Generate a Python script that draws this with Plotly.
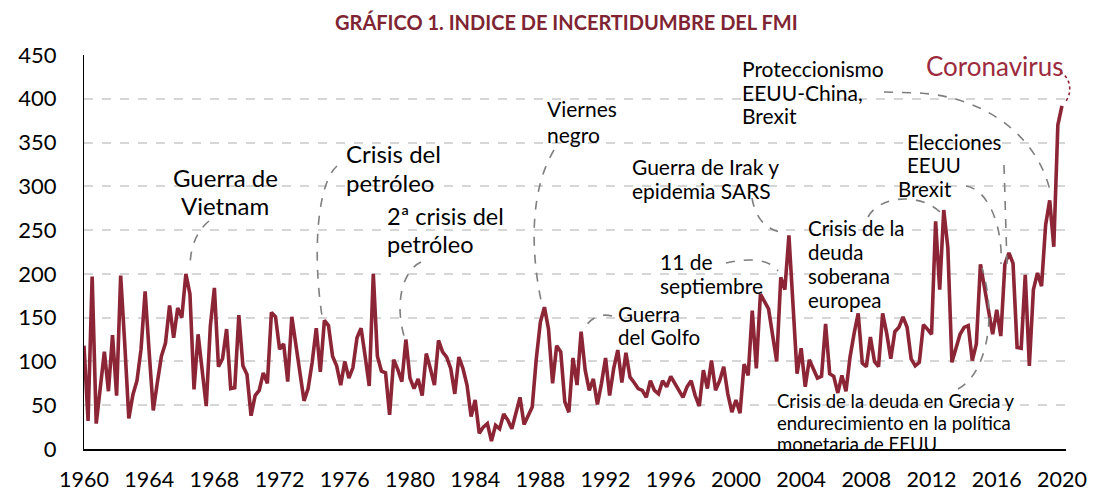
import plotly.graph_objects as go

# ---------------- data (quarterly, 1960Q1 - 2020Q1) ----------------
inicio_anio = 1960
valores = [
    118, 32, 197, 29, 70, 111, 66, 130, 61, 198, 120, 35, 62, 78, 114, 180,
    110, 44, 76, 106, 121, 164, 127, 161, 150, 200, 177, 68, 131, 86, 49, 140,
    184, 94, 103, 137, 69, 70, 153, 95, 85, 38, 61, 67, 87, 75, 156, 151,
    114, 120, 77, 151, 118, 88, 55, 69, 99, 138, 88, 147, 141, 106, 95, 73,
    100, 81, 93, 127, 138, 106, 72, 200, 106, 89, 87, 39, 102, 91, 77, 125,
    81, 69, 80, 61, 109, 92, 73, 124, 111, 105, 92, 63, 105, 92, 73, 37,
    56, 18, 25, 29, 9, 27, 23, 40, 33, 23, 42, 59, 28, 37, 48, 103,
    145, 162, 137, 75, 118, 111, 54, 42, 104, 73, 134, 90, 67, 80, 51, 75,
    104, 61, 92, 113, 76, 110, 82, 76, 69, 67, 59, 78, 67, 63, 78, 71,
    83, 75, 67, 59, 71, 78, 61, 49, 90, 69, 101, 67, 78, 94, 63, 42,
    56, 41, 97, 84, 158, 92, 177, 168, 160, 130, 100, 196, 182, 244, 165, 86,
    115, 71, 102, 92, 81, 83, 143, 86, 83, 64, 84, 66, 105, 132, 155, 98,
    94, 128, 100, 94, 155, 132, 103, 134, 139, 151, 139, 103, 95, 99, 142, 137,
    131, 260, 182, 273, 230, 99, 116, 131, 139, 141, 101, 120, 211, 185, 158, 131,
    159, 129, 211, 224, 212, 116, 115, 199, 95, 182, 201, 186, 256, 284, 231, 370,
    392,
]
fechas = [inicio_anio + i / 4 for i in range(len(valores))]
anios_etiqueta = list(range(1960, 2021, 4))
valores_eje_y = list(range(0, 451, 50))

titulo = "GRÁFICO 1. INDICE DE INCERTIDUMBRE DEL FMI"

# ---------------- styling ----------------
ROJO = "#8C2535"
GRIS = "#7F7F7F"
FUENTE = "Lato"

W, H = 1093, 493
# plot area in page pixels
L, R, T, B = 84, 1066, 55, 449


def px(x):
    return (x - L) / (R - L)


def py(y):
    return (B - y) / (B - T)


fig = go.Figure()
fig.add_trace(go.Scatter(
    x=fechas, y=valores, mode="lines",
    line=dict(color=ROJO, width=3.6),
    hoverinfo="x+y", showlegend=False,
))

annotations = []


def bloque(x, ys, lineas, size=21, anchor="left", color="black"):
    for y, t in zip(ys, lineas):
        annotations.append(dict(
            xref="paper", yref="paper", x=px(x), y=py(y), text=t,
            showarrow=False, xanchor=anchor, yanchor="middle",
            font=dict(family=FUENTE, size=size, color=color),
        ))


bloque(225, [177, 205], ["Guerra de", "Vietnam"], size=24, anchor="center")
bloque(344, [153, 182], ["Crisis del", "petróleo"], size=24)
bloque(385, [216, 244], ["2ª crisis del", "petróleo"], size=23.5)
bloque(545, [109, 134], ["Viernes", "negro"])
bloque(630, [166, 190], ["Guerra de Irak y", "epidemia SARS"])
bloque(658, [261, 285], ["11 de", "septiembre"])
bloque(616, [314, 337], ["Guerra", "del Golfo"], size=20.5)
bloque(806, [228, 252, 276, 300], ["Crisis de la", "deuda", "soberana", "europea"], size=20.5)
bloque(905, [142, 165], ["Elecciones", "EEUU"], size=20.5)
bloque(896, [189], ["Brexit"], size=20.5)
bloque(740, [68, 92, 116], ["Proteccionismo", "EEUU-China,", "Brexit"])
bloque(924, [66], ["Coronavirus"], size=26, color="#9B2B3D")
bloque(775, [401, 423, 444], ["Crisis de la deuda en Grecia y",
                             "endurecimiento en la política",
                             "monetaria de EEUU"], size=18.5)

annotations.append(dict(
    xref="paper", yref="paper", x=px(566), y=py(22), text="<b>" + titulo + "</b>",
    showarrow=False, xanchor="center", yanchor="middle",
    font=dict(family=FUENTE, size=20, color="#7E2433"),
))


def P(x, y):
    return f"{px(x):.5f},{py(y):.5f}"


conectores = [
    f"M{P(209,221)} C{P(198,230)} {P(190,245)} {P(190,268)}",
    f"M{P(337,166)} C{P(318,182)} {P(312,250)} {P(322,316)}",
    f"M{P(421,262)} C{P(404,270)} {P(394,300)} {P(404,336)}",
    f"M{P(554,150)} C{P(530,190)} {P(530,250)} {P(542,305)}",
    f"M{P(612,316)} C{P(600,313)} {P(590,318)} {P(583,330)}",
    f"M{P(726,263)} C{P(752,257)} {P(770,260)} {P(778,271)}",
    f"M{P(752,198)} C{P(756,222)} {P(770,232)} {P(787,233)}",
    f"M{P(868,217)} C{P(880,195)} {P(920,193)} {P(940,212)}",
    f"M{P(966,186)} C{P(990,190)} {P(1003,230)} {P(1001,264)}",
    f"M{P(1004,165)} L{P(1007,265)}",
    f"M{P(958,389)} C{P(985,375)} {P(998,320)} {P(982,268)}",
    f"M{P(884,92)} L{P(920,93)} C{P(990,98)} {P(1040,140)} {P(1051,195)}",
]
shapes = [dict(type="path", xref="paper", yref="paper", path=p,
               line=dict(color=GRIS, width=1.6, dash="dash"), layer="above")
          for p in conectores]
shapes.append(dict(type="path", xref="paper", yref="paper",
                   path=f"M{P(1060,72)} C{P(1072,78)} {P(1072,95)} {P(1065,102)}",
                   line=dict(color=ROJO, width=1.6, dash="dot")))

fig.update_layout(
    width=W, height=H, autosize=False,
    margin=dict(l=L, r=W - R, t=T, b=H - B, pad=0),
    paper_bgcolor="white", plot_bgcolor="white",
    font=dict(family=FUENTE, color="black"),
    annotations=annotations, shapes=shapes,
    xaxis=dict(
        range=[1960, 2020.25], tickvals=anios_etiqueta,
        ticktext=[str(a) for a in anios_etiqueta],
        showgrid=False, zeroline=False, showline=True,
        linecolor="black", linewidth=2, ticks="", automargin=False,
        tickfont=dict(family=FUENTE, size=21.5, color="black"),
        ticklabelstandoff=10,
    ),
    yaxis=dict(
        range=[0, 450], tickvals=valores_eje_y,
        showgrid=True, gridcolor="#D6D6D6", griddash="dash", gridwidth=1.5,
        zeroline=False, showline=True, linecolor="black", linewidth=1,
        ticks="", automargin=False,
        tickfont=dict(family=FUENTE, size=22, color="black"),
        ticklabelstandoff=22,
    ),
)

fig.write_html(
    "out.html",
    config={"displayModeBar": False},
    post_script="document.body.style.margin='0';document.body.style.overflow='hidden';",
)
